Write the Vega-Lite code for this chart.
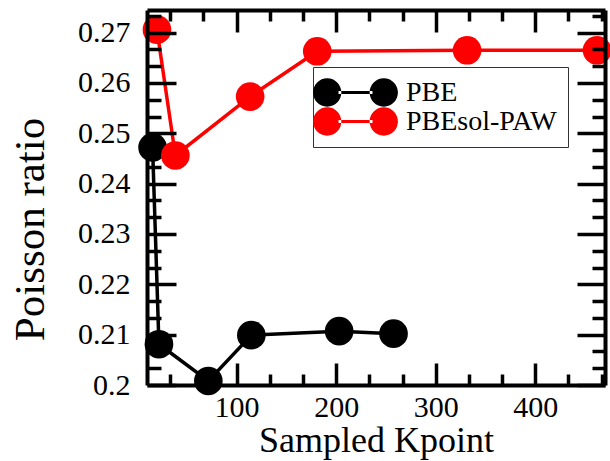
{
  "$schema": "https://vega.github.io/schema/vega-lite/v6.json",
  "width": 458,
  "height": 375,
  "autosize": {"type": "none"},
  "padding": {"left": 147, "top": 10, "right": 5, "bottom": 76},
  "background": "white",
  "config": {
    "view": {"stroke": null},
    "font": "Liberation Serif"
  },
  "data": {
    "values": [
      {"k": 15.6, "ratio": 0.2472, "method": "PBE"},
      {"k": 22, "ratio": 0.2081, "method": "PBE"},
      {"k": 71.6, "ratio": 0.2008, "method": "PBE"},
      {"k": 114.8, "ratio": 0.2099, "method": "PBE"},
      {"k": 203, "ratio": 0.2107, "method": "PBE"},
      {"k": 257.6, "ratio": 0.2102, "method": "PBE"},
      {"k": 20, "ratio": 0.2706, "method": "PBEsol-PAW"},
      {"k": 38.5, "ratio": 0.2456, "method": "PBEsol-PAW"},
      {"k": 113.6, "ratio": 0.2573, "method": "PBEsol-PAW"},
      {"k": 181, "ratio": 0.2663, "method": "PBEsol-PAW"},
      {"k": 331.5, "ratio": 0.2665, "method": "PBEsol-PAW"},
      {"k": 462, "ratio": 0.2665, "method": "PBEsol-PAW"}
    ]
  },
  "layer": [
    {
      "mark": {"type": "line", "strokeWidth": 3.5},
      "encoding": {
        "x": {
          "field": "k", "type": "quantitative",
          "scale": {"domain": [10, 470], "nice": false, "zero": false},
          "axis": {
            "orient": "bottom", "title": "Sampled Kpoint", "zindex": 2,
            "values": [33.3333, 66.6667, 100, 133.3333, 166.6667, 200, 233.3333, 266.6667, 300, 333.3333, 366.6667, 400, 433.3333, 466.6667],
            "labelExpr": "abs(datum.value/100 - round(datum.value/100)) < 0.001 ? format(datum.value, 'd') : ''",
            "labelOverlap": false, "labelFlush": false,
            "labelFont": "Liberation Serif", "labelFontSize": 30, "labelColor": "black", "labelPadding": 29,
            "titleFont": "Liberation Serif", "titleFontSize": 36, "titleFontWeight": "normal", "titleColor": "black", "titlePadding": -10,
            "grid": false, "domainColor": "black", "domainWidth": 4, "tickColor": "black", "tickWidth": 3.5,
            "tickSize": {"condition": {"test": "abs(datum.value/100 - round(datum.value/100)) < 0.001", "value": -22}, "value": -11}
          }
        },
        "y": {
          "field": "ratio", "type": "quantitative",
          "scale": {"domain": [0.2, 0.2745], "nice": false, "zero": false},
          "axis": {
            "orient": "left", "title": "Poisson ratio", "zindex": 2,
            "values": [0.2, 0.203333, 0.206667, 0.21, 0.213333, 0.216667, 0.22, 0.223333, 0.226667, 0.23, 0.233333, 0.236667, 0.24, 0.243333, 0.246667, 0.25, 0.253333, 0.256667, 0.26, 0.263333, 0.266667, 0.27, 0.273333],
            "labelExpr": "abs(datum.value*100 - round(datum.value*100)) < 0.001 ? format(datum.value, '.2~f') : ''",
            "labelOverlap": false, "labelFlush": false,
            "labelFont": "Liberation Serif", "labelFontSize": 30, "labelColor": "black", "labelPadding": 46,
            "titleFont": "Liberation Serif", "titleFontSize": 43, "titleFontWeight": "normal", "titleColor": "black",
            "titleX": -104, "titleY": 219, "titleBaseline": "alphabetic", "titleAngle": -90,
            "grid": false, "domainColor": "black", "domainWidth": 4, "tickColor": "black", "tickWidth": 3.5,
            "tickSize": {"condition": {"test": "abs(datum.value*100 - round(datum.value*100)) < 0.001", "value": -29}, "value": -14}
          }
        },
        "color": {
          "field": "method", "type": "nominal",
          "scale": {"domain": ["PBE", "PBEsol-PAW"], "range": ["black", "#ff0000"]},
          "legend": {
            "title": null, "orient": "none", "legendX": 166, "legendY": 57,
            "direction": "vertical",
            "strokeColor": "#333333", "fillColor": "white", "padding": 11,
            "symbolType": "M -3 0 A 1 1 0 1 0 -1 0 A 1 1 0 1 0 -3 0 Z M 1 0 A 1 1 0 1 0 3 0 A 1 1 0 1 0 1 0 Z M -1.2 -0.11 L 1.2 -0.11 L 1.2 0.11 L -1.2 0.11 Z",
            "symbolSize": 800, "symbolOffset": 17, "symbolStrokeWidth": 0,
            "labelOffset": 36, "labelFont": "Liberation Serif", "labelFontSize": 28, "labelColor": "black",
            "rowPadding": -2,
            "encode": {"symbols": {"update": {"fill": {"signal": "scale('color', datum.value)"}, "stroke": {"value": "transparent"}, "opacity": {"value": 1}}}}
          }
        }
      }
    },
    {
      "mark": {"type": "point", "filled": true, "size": 820, "opacity": 1},
      "encoding": {
        "x": {
          "field": "k", "type": "quantitative",
          "axis": {
            "orient": "top", "title": null, "zindex": 2, "labels": false,
            "values": [33.3333, 66.6667, 100, 133.3333, 166.6667, 200, 233.3333, 266.6667, 300, 333.3333, 366.6667, 400, 433.3333, 466.6667],
            "grid": false, "domainColor": "black", "domainWidth": 4, "tickColor": "black", "tickWidth": 3.5,
            "tickSize": {"condition": {"test": "abs(datum.value/100 - round(datum.value/100)) < 0.001", "value": -22}, "value": -11}
          }
        },
        "y": {
          "field": "ratio", "type": "quantitative",
          "axis": {
            "orient": "right", "title": null, "zindex": 2, "labels": false,
            "values": [0.2, 0.203333, 0.206667, 0.21, 0.213333, 0.216667, 0.22, 0.223333, 0.226667, 0.23, 0.233333, 0.236667, 0.24, 0.243333, 0.246667, 0.25, 0.253333, 0.256667, 0.26, 0.263333, 0.266667, 0.27, 0.273333],
            "grid": false, "domainColor": "black", "domainWidth": 4, "tickColor": "black", "tickWidth": 3.5,
            "tickSize": {"condition": {"test": "abs(datum.value*100 - round(datum.value*100)) < 0.001", "value": -28}, "value": -13}
          }
        },
        "color": {"field": "method", "type": "nominal"}
      }
    }
  ],
  "resolve": {"axis": {"x": "independent", "y": "independent"}}
}
